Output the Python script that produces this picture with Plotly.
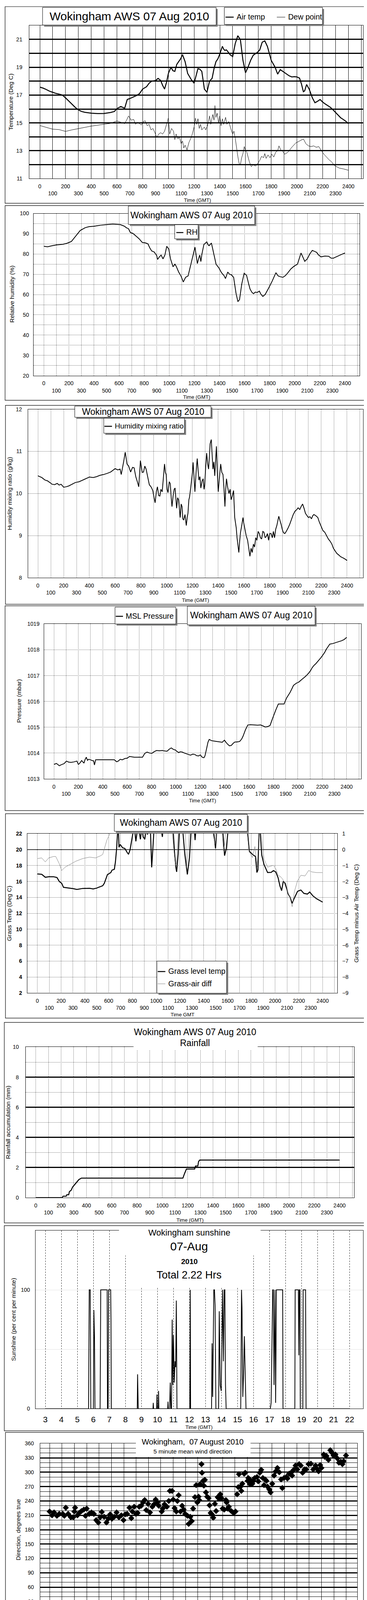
import plotly.graph_objects as go

W, H = 940, 4800
SANS = "Liberation Sans, Arial, Helvetica, sans-serif"

# ---------------- data (hour of day, value) ----------------
AIR_TEMP = [(0,17.57),(0.25,17.5),(0.5,17.4),(0.75,17.28),(1,17.2),(1.25,17.12),(1.5,17.07),(1.75,17.0),(2,16.8),
    (2.25,16.58),(2.5,16.36),(2.75,16.12),(3,15.93),(3.25,15.82),(3.5,15.76),(3.75,15.72),(4,15.7),(4.5,15.67),
    (5,15.68),(5.5,15.75),(5.8,15.82),(6,16.03),(6.3,16.18),(6.6,16.05),(6.8,16.68),(7,16.75),(7.25,16.85),
    (7.5,16.96),(7.75,17.1),(8,17.43),(8.3,17.6),(8.5,17.85),(8.7,18.0),(9,18.04),(9.2,18.2),(9.4,18.05),
    (9.55,17.7),(9.7,17.43),(9.85,17.9),(10,18.55),(10.2,19.0),(10.35,18.75),(10.5,18.7),(10.65,19.2),(10.8,19.4),
    (10.95,19.6),(11.1,19.9),(11.3,19.4),(11.5,18.55),(11.8,18.08),(12.0,17.85),(12.1,18.2),(12.3,18.9),
    (12.45,18.85),(12.6,18.7),(12.8,17.43),(13,17.2),(13.2,18.0),(13.4,18.2),(13.55,18.9),(13.7,19.4),
    (13.85,19.6),(14,19.95),(14.2,20.5),(14.3,20.3),(14.4,20.2),(14.5,20.25),(14.6,20.15),(14.8,19.9),
    (15,19.77),(15.2,20.7),(15.4,21.26),(15.6,20.98),(15.8,19.49),(16,18.6),(16.2,19.02),(16.4,19.5),
    (16.6,19.86),(16.9,20.05),(17.1,20.23),(17.3,20.8),(17.5,20.89),(17.7,20.5),(17.85,20.0),(18,19.49),
    (18.3,19.0),(18.5,18.5),(18.7,18.83),(19,18.64),(19.2,18.5),(19.4,18.38),(19.6,18.3),(19.8,18.32),
    (20.0,18.3),(20.2,18.22),(20.35,17.8),(20.5,17.24),(20.6,17.3),(20.75,17.76),(20.95,17.43),(21.2,16.8),
    (21.4,16.45),(21.6,16.55),(21.8,16.68),(22.0,16.5),(22.2,16.36),(22.4,16.25),(22.6,16.12),(22.8,15.95),
    (23,15.75),(23.2,15.56),(23.4,15.37),(23.6,15.25),(23.8,15.12),(24,14.95)]

DEW_POINT = [(0,14.81),(0.5,14.67),(1,14.55),(1.5,14.52),(2,14.39),(2.5,14.5),(3,14.6),(3.5,14.68),(4,14.77),
    (4.5,14.83),(5,14.9),(5.5,14.97),(6,15.14),(6.3,15.05),(6.6,14.95),(6.75,15.2),(6.9,15.5),(7.1,15.2),
    (7.3,15.25),(7.45,14.9),(7.6,15.05),(7.9,14.85),(8.05,15.1),(8.2,15.15),(8.35,14.8),(8.5,14.9),(8.65,14.5),
    (8.8,14.6),(8.95,14.3),(9.1,13.95),(9.25,14.2),(9.4,14.3),(9.55,14.2),(9.7,14.4),(9.85,14.9),(10.0,15.35),
    (10.1,14.2),(10.25,14.6),(10.4,14.4),(10.5,13.8),(10.6,14.2),(10.75,13.85),(10.85,14.0),(11.0,13.5),
    (11.1,13.7),(11.2,13.2),(11.3,13.4),(11.45,13.06),(11.6,13.6),(11.8,14.0),(12.0,14.7),(12.1,15.35),
    (12.2,14.9),(12.3,15.3),(12.4,14.6),(12.5,14.9),(12.6,14.5),(12.8,14.7),(12.9,14.5),(13.05,14.8),
    (13.2,15.5),(13.3,14.9),(13.45,15.6),(13.55,15.2),(13.62,16.25),(13.7,15.4),(13.8,15.7),(13.9,15.0),
    (14.0,15.5),(14.1,14.8),(14.2,15.3),(14.3,14.9),(14.45,15.4),(14.55,14.9),(14.7,15.1),(14.85,14.6),
    (15.0,14.2),(15.1,14.4),(15.2,13.9),(15.3,13.2),(15.4,12.6),(15.5,12.1),(15.6,12.0),(15.7,12.5),
    (15.8,12.8),(15.9,13.3),(16.0,13.0),(16.1,12.9),(16.3,12.2),(16.45,11.85),(16.6,12.0),(16.75,11.9),
    (16.9,12.0),(17.1,12.3),(17.25,12.6),(17.4,12.5),(17.5,12.8),(17.6,12.45),(17.75,12.7),(17.9,12.5),
    (18.05,12.75),(18.2,12.55),(18.35,12.9),(18.5,13.0),(18.6,13.35),(18.75,13.05),(18.9,12.95),(19.05,12.75),
    (19.3,12.9),(19.6,13.25),(19.9,13.55),(20.2,13.7),(20.5,13.85),(20.7,13.5),(20.9,13.35),(21.1,13.3),
    (21.3,13.35),(21.5,13.25),(21.7,13.3),(21.9,13.0),(22.1,12.75),(22.3,12.55),(22.5,12.35),(22.7,12.2),
    (22.9,11.95),(23.1,11.85),(23.3,11.75),(23.6,11.7),(24.0,11.6)]

REL_HUM = [(0,83.8),(0.3,83.6),(0.6,84.0),(1,84.5),(1.5,84.8),(1.8,85.2),(2,85.7),(2.2,86.2),(2.5,88.5),(2.9,91.6),
    (3.3,93),(3.6,93.5),(4,93.7),(4.5,94.2),(5,94.5),(5.5,94.8),(6.1,94.5),(6.4,93.8),(6.6,92.9),(6.75,92.5),
    (6.9,90.6),(7.1,90.2),(7.4,88.6),(7.6,87.5),(7.85,85.7),(8.1,85.5),(8.3,85.0),(8.45,83.0),(8.6,81.5),
    (8.8,81.0),(9.0,79.2),(9.07,77.3),(9.2,78.5),(9.35,79.5),(9.5,77.6),(9.65,79.5),(9.8,83.8),(9.96,82.5),
    (10.1,77.6),(10.3,73.7),(10.45,75.0),(10.55,74.0),(10.75,71.1),(10.93,69.2),(11.12,66.2),(11.3,68.5),
    (11.5,69.2),(11.68,74),(11.87,78.9),(12.05,83.4),(12.15,79.0),(12.24,75.3),(12.35,78.0),(12.43,79.5),
    (12.52,76.3),(12.6,79.9),(12.76,84.7),(12.99,86.0),(13.1,84.5),(13.17,84.1),(13.36,85.4),(13.54,80.2),
    (13.73,75.0),(13.85,74.0),(13.96,73.1),(14.1,71.5),(14.2,70.5),(14.35,69.5),(14.48,67.9),(14.66,71.1),
    (14.8,70.0),(14.94,69.8),(15.13,68.5),(15.32,60.7),(15.47,56.5),(15.6,57.5),(15.78,65.3),(15.97,70.5),
    (16.16,69.5),(16.3,66.0),(16.44,62.7),(16.6,61.0),(16.72,60.4),(16.85,61.2),(17.0,61.0),(17.18,61.7),
    (17.3,60.2),(17.46,59.1),(17.65,60.1),(17.93,63.3),(18.2,66.6),(18.5,70.8),(18.68,69.2),(18.85,68.8),
    (19.05,68.5),(19.25,69.3),(19.42,70.5),(19.7,72.7),(19.95,74.0),(20.22,75.0),(20.35,77.5),(20.5,80.5),
    (20.65,78.5),(20.8,76.4),(21.0,77.6),(21.2,80.0),(21.4,81.8),(21.6,81.2),(21.75,80.8),(21.9,79.5),
    (22.1,78.6),(22.4,79.0),(22.7,78.9),(22.9,78.0),(23.06,77.9),(23.3,78.6),(23.6,79.5),(23.8,80.0),(24,80.5)]

MIX_RATIO = [(0,10.42),(0.3,10.38),(0.55,10.32),(0.75,10.3),(0.93,10.26),(1.1,10.22),(1.3,10.21),(1.5,10.24),
    (1.65,10.2),(1.8,10.22),(2,10.15),(2.2,10.16),(2.4,10.18),(2.65,10.22),(2.9,10.26),(3.2,10.28),(3.5,10.32),
    (3.75,10.36),(4,10.39),(4.3,10.38),(4.56,10.4),(4.8,10.43),(5.1,10.45),(5.4,10.48),(5.65,10.51),(6,10.59),
    (6.2,10.56),(6.38,10.58),(6.47,10.45),(6.65,10.74),(6.78,10.98),(6.92,10.7),(7.05,10.65),(7.2,10.51),
    (7.35,10.62),(7.47,10.61),(7.6,10.4),(7.74,10.26),(7.83,10.16),(7.96,10.78),(8.1,10.5),(8.2,10.51),
    (8.3,10.65),(8.4,10.58),(8.55,10.35),(8.65,10.21),(8.8,10.15),(8.92,10.07),(9.02,9.9),(9.1,9.78),
    (9.2,10.05),(9.28,10.16),(9.38,9.95),(9.47,9.94),(9.55,10.1),(9.65,10.04),(9.75,10.4),(9.83,10.7),
    (9.9,10.5),(9.96,10.45),(10.03,10.1),(10.1,10.02),(10.2,10.28),(10.28,10.23),(10.35,9.9),(10.41,9.69),
    (10.5,9.95),(10.58,10.1),(10.65,10.13),(10.72,9.8),(10.77,9.65),(10.85,9.9),(10.92,9.85),(11.0,9.6),
    (11.05,9.43),(11.12,9.75),(11.19,9.69),(11.25,9.4),(11.32,9.37),(11.42,9.5),(11.52,9.24),(11.6,9.45),
    (11.65,9.53),(11.72,9.85),(11.77,9.91),(11.85,10.1),(11.92,10.32),(12.0,10.5),(12.05,10.74),(12.12,10.4),
    (12.19,10.04),(12.28,10.5),(12.37,10.83),(12.44,10.55),(12.5,10.32),(12.58,10.4),(12.65,10.13),(12.75,10.3),
    (12.83,10.35),(12.9,10.1),(12.95,10.2),(13.02,10.6),(13.1,10.96),(13.18,10.7),(13.25,10.58),(13.32,10.9),
    (13.37,11.18),(13.46,11.28),(13.52,10.9),(13.59,10.58),(13.66,10.75),(13.73,10.42),(13.8,10.8),
    (13.86,11.12),(13.93,10.5),(14.0,10.04),(14.1,10.4),(14.19,10.7),(14.28,10.5),(14.37,10.45),(14.45,10.1),
    (14.52,9.69),(14.58,10.1),(14.64,10.35),(14.73,10.15),(14.83,10.0),(14.92,10.1),(15.0,9.85),(15.1,9.95),
    (15.19,10.07),(15.28,9.43),(15.34,9.3),(15.4,9.18),(15.46,8.95),(15.52,8.8),(15.6,8.6),(15.66,8.85),
    (15.73,9.08),(15.83,9.25),(15.92,9.43),(15.98,9.3),(16.06,9.18),(16.17,9.0),(16.28,8.89),(16.37,8.7),
    (16.46,8.51),(16.55,8.7),(16.64,8.6),(16.73,8.8),(16.82,8.73),(16.91,8.95),(17.0,8.89),(17.1,9.1),
    (17.19,9.05),(17.28,8.95),(17.37,8.92),(17.46,9.1),(17.55,9.08),(17.64,8.95),(17.73,8.98),(17.82,9.05),
    (17.91,8.89),(18.0,9.05),(18.1,9.05),(18.2,8.95),(18.28,9.1),(18.37,8.95),(18.46,9.15),(18.55,9.24),
    (18.63,9.35),(18.7,9.46),(18.8,9.35),(18.88,9.27),(18.97,9.15),(19.06,9.07),(19.17,9.05),(19.28,9.1),
    (19.42,9.18),(19.55,9.27),(19.68,9.38),(19.82,9.5),(19.96,9.58),(20.1,9.62),(20.2,9.66),(20.33,9.62),
    (20.45,9.7),(20.55,9.75),(20.66,9.65),(20.77,9.53),(20.88,9.48),(21.0,9.43),(21.12,9.45),(21.24,9.4),
    (21.33,9.47),(21.42,9.5),(21.55,9.48),(21.64,9.45),(21.73,9.43),(21.85,9.32),(22.0,9.21),(22.13,9.12),
    (22.27,9.08),(22.41,9.0),(22.55,8.92),(22.68,8.87),(22.82,8.8),(22.94,8.7),(23.06,8.64),(23.2,8.58),
    (23.36,8.54),(23.5,8.5),(23.64,8.48),(23.82,8.45),(24,8.41)]

MSL_PRESSURE = [(0,1013.56),(0.2,1013.6),(0.44,1013.51),(0.6,1013.55),(0.83,1013.59),(1.02,1013.69),(1.2,1013.65),
    (1.4,1013.64),(1.65,1013.66),(1.88,1013.69),(2.0,1013.56),(2.1,1013.6),(2.27,1013.71),(2.46,1013.61),
    (2.55,1013.75),(2.65,1013.84),(2.75,1013.72),(2.84,1013.76),(3.0,1013.74),(3.13,1013.71),(3.25,1013.7),
    (3.32,1013.54),(3.42,1013.74),(3.6,1013.74),(3.9,1013.74),(4.5,1013.74),(4.95,1013.74),(5.15,1013.66),
    (5.3,1013.7),(5.43,1013.76),(5.6,1013.74),(5.82,1013.79),(6.0,1013.8),(6.2,1013.87),(6.4,1013.85),
    (6.59,1013.84),(7.0,1013.84),(7.26,1013.84),(7.45,1013.99),(7.64,1014.04),(7.85,1014.0),(8.03,1013.99),
    (8.2,1014.05),(8.41,1014.1),(8.65,1014.09),(8.89,1014.1),(9.1,1014.08),(9.27,1014.07),(9.45,1014.15),
    (9.62,1014.2),(9.8,1014.14),(9.95,1014.12),(10.1,1014.06),(10.23,1014.02),(10.35,1014.05),(10.52,1014.04),
    (10.7,1014.0),(10.9,1013.97),(11.05,1013.94),(11.19,1013.92),(11.4,1013.96),(11.58,1013.94),(11.7,1013.9),
    (11.87,1013.89),(12.0,1013.93),(12.15,1013.84),(12.3,1013.82),(12.38,1013.89),(12.46,1014.05),
    (12.54,1014.25),(12.63,1014.42),(12.73,1014.53),(12.92,1014.48),(13.2,1014.46),(13.4,1014.45),
    (13.6,1014.43),(13.8,1014.42),(13.98,1014.5),(14.1,1014.42),(14.27,1014.33),(14.4,1014.28),(14.55,1014.3),
    (14.7,1014.38),(14.84,1014.43),(15.0,1014.43),(15.23,1014.45),(15.4,1014.55),(15.51,1014.66),
    (15.71,1014.91),(15.9,1015.09),(16.1,1015.1),(16.38,1015.09),(16.7,1015.08),(16.95,1015.09),
    (17.15,1015.05),(17.34,1015.01),(17.55,1015.03),(17.72,1015.07),(17.91,1015.32),(18.05,1015.5),
    (18.2,1015.68),(18.4,1015.9),(18.6,1015.9),(18.87,1015.9),(19.07,1016.13),(19.2,1016.22),(19.35,1016.34),
    (19.5,1016.48),(19.64,1016.62),(19.8,1016.68),(19.93,1016.72),(20.08,1016.75),(20.22,1016.8),
    (20.35,1016.86),(20.5,1016.92),(20.7,1017.0),(20.89,1017.1),(21.05,1017.2),(21.18,1017.31),(21.33,1017.4),
    (21.47,1017.46),(21.6,1017.53),(21.75,1017.61),(21.9,1017.7),(22.04,1017.79),(22.2,1017.9),(22.33,1018.02),
    (22.48,1018.12),(22.62,1018.22),(22.85,1018.24),(23.1,1018.28),(23.35,1018.32),(23.58,1018.35),
    (23.8,1018.4),(24,1018.48)]

GRASS_TEMP = [(0,16.95),(0.37,16.9),(0.67,16.53),(0.96,16.6),(1.36,16.6),(1.65,16.5),(1.85,16.0),(2.05,15.77),
    (2.2,15.27),(2.64,15.18),(3.03,15.1),(3.33,15.0),(3.82,15.13),(4.4,15.15),(4.7,15.06),(5.0,15.18),
    (5.3,15.35),(5.5,15.47),(5.63,15.77),(5.9,16.87),(6.18,17.12),(6.28,17.42),(6.48,17.54),(6.57,18.46),
    (6.67,20.15),(6.74,22.5),(6.8,23.5),(6.87,20.3),(6.97,20.65),(7.17,20.24),(7.36,20.15),(7.56,19.64),
    (7.67,19.41),(7.8,19.98),(7.95,21.33),(8.1,22.5),(8.15,23.0),(8.29,21.04),(8.4,22.3),(8.5,23.0),
    (8.67,21.3),(8.8,22.8),(8.9,21.6),(9.04,21.3),(9.15,22.5),(9.27,21.9),(9.4,23.5),(9.52,22.2),(9.62,17.78),
    (9.72,20.15),(9.85,23.5),(10.2,24.5),(10.42,22.5),(10.52,21.6),(10.62,23.5),(11.0,25),(11.4,23),
    (11.55,19.5),(11.65,17.8),(11.72,17.21),(11.85,19.5),(11.98,23.5),(12.2,23.0),(12.4,19.5),(12.62,16.89),
    (12.8,19.0),(12.95,23.0),(13.15,23.5),(13.27,21.2),(13.4,23.5),(14.0,25),(14.6,24),(14.85,22.0),
    (14.99,20.15),(15.1,22.5),(15.4,24),(15.62,22.0),(15.75,19.25),(15.9,20.15),(16.05,22.5),(16.5,25),
    (17.2,24),(17.7,22.0),(17.83,19.8),(18.1,19.4),(18.35,19.14),(18.47,17.13),(18.56,17.45),(18.64,22.0),
    (18.7,23.0),(18.8,21.0),(18.88,19.3),(19.07,18.13),(19.37,17.12),(19.67,17.15),(19.86,17.37),(20.06,17.2),
    (20.26,16.44),(20.41,15.43),(20.55,14.85),(20.69,16.03),(20.85,15.77),(21.1,14.42),(21.24,14.09),
    (21.44,13.25),(21.57,13.75),(21.73,14.26),(21.89,14.76),(22.17,14.93),(22.42,14.51),(22.72,14.42),
    (22.91,14.68),(23.2,14.17),(23.5,13.83),(23.8,13.58),(24.0,13.41)]

GRASS_AIR_DIFF = [(0,-0.56),(0.37,-0.52),(0.67,-0.77),(0.96,-0.52),(1.36,-0.43),(1.55,-0.43),(1.85,-0.89),
    (2.05,-1.31),(2.34,-1.1),(2.83,-0.89),(3.23,-0.73),(3.82,-0.56),(4.4,-0.47),(4.9,-0.52),(5.3,-0.39),
    (5.5,-0.3),(5.67,0.14),(5.85,0.6),(6.1,1.0),(6.3,1.5),(7.5,2.2),(8.5,2.5),(9.4,2.0),(9.6,1.5),(9.75,2.0),
    (10.5,2.5),(11.3,1.5),(11.45,0.2),(11.62,-0.99),(11.7,-0.9),(11.8,0.5),(11.9,1.5),(12.2,2.0),(12.45,1.0),
    (12.57,-1.11),(12.66,-0.3),(12.8,1.2),(13.5,2.5),(14.6,1.5),(14.8,0.9),(14.96,0.36),(15.1,1.1),
    (15.55,1.2),(15.65,-0.05),(15.75,0.3),(15.85,1.3),(16.5,2.5),(17.6,1.5),(17.8,-0.1),(17.95,-0.3),
    (18.1,-0.5),(18.3,0.2),(18.42,-0.6),(18.5,-1.1),(18.6,0.5),(18.68,1.5),(18.85,0.9),(19.07,-0.6),
    (19.37,-1.1),(19.6,-1.05),(19.86,-0.98),(20.06,-1.2),(20.26,-1.61),(20.45,-1.69),(20.65,-1.86),
    (20.94,-2.45),(21.24,-2.96),(21.44,-3.59),(21.63,-2.62),(21.89,-1.95),(22.17,-1.61),(22.52,-1.65),
    (22.82,-1.31),(23.11,-1.4),(23.5,-1.44),(24.0,-1.44)]

RAINFALL = [(0,0),(2.09,0),(2.15,0.1),(2.4,0.1),(2.45,0.2),(2.6,0.2),(2.65,0.4),(2.8,0.5),(2.9,0.7),(3.0,0.8),
    (3.1,0.9),(3.2,1.0),(3.3,1.1),(3.4,1.2),(3.6,1.3),(11.62,1.3),(11.75,1.6),(11.9,1.9),(12.55,1.9),
    (12.62,2.1),(12.8,2.1),(12.86,2.4),(12.95,2.5),(24,2.5)]

SUNSHINE = [(3,0),(5.7,0),(5.74,100),(5.8,100),(5.84,0),(6.0,0),(6.03,83),(6.07,60),(6.1,0),(6.42,0),(6.46,100),
    (6.86,100),(6.88,0),(6.92,0),(6.95,100),(7.08,100),(7.1,75),(7.12,0),(8.74,0),(8.76,29),(8.78,15),(8.8,0),
    (9.72,0),(9.74,5),(9.76,0),(9.95,0),(9.97,12),(9.99,0),(10.05,0),(10.07,15),(10.09,0),(10.64,0),(10.66,6),
    (10.68,0),(10.76,0),(10.8,22),(10.84,0),(10.88,0),(10.92,75),(10.96,20),(11.0,62),(11.05,22),(11.1,40),
    (11.14,35),(11.18,91),(11.22,0),(12.02,0),(12.04,52),(12.05,100),(12.07,0),(13.38,0),(13.41,55),
    (13.45,10),(13.52,100),(13.56,100),(13.6,87),(13.65,0),(13.82,0),(13.86,82),(13.92,20),(13.98,15),
    (14.03,60),(14.07,100),(14.12,40),(14.17,100),(14.21,100),(14.25,20),(14.29,0),(15.2,0),(15.22,35),
    (15.25,100),(15.28,85),(15.33,10),(15.38,30),(15.43,61),(15.48,30),(15.53,0),(17.05,0),(17.1,5),
    (17.2,100),(17.24,100),(17.28,20),(17.34,100),(17.38,5),(17.43,100),(17.82,100),(17.84,0),(18.58,0),
    (18.6,100),(18.8,100),(18.83,45),(18.86,100),(18.9,100),(18.92,0),(19.08,0),(19.1,100),(19.25,100),
    (19.28,0),(22,0)]

WIND_DIR = [(0,218),(0.2,210),(0.36,216),(0.59,209),(0.78,213),(1.06,213),(1.19,209),(1.31,226),(1.5,213),
    (1.72,206),(1.91,206),(2.0,218),(2.06,226),(2.25,210),(2.39,215),(2.58,219),(2.77,222),(2.9,209),(3.0,224),
    (3.2,213),(3.39,216),(3.58,213),(3.77,200),(3.94,195),(4.09,206),(4.22,217),(4.41,207),(4.6,195),
    (4.75,203),(4.9,212),(5.04,203),(5.23,207),(5.42,216),(5.61,206),(5.8,210),(5.98,200),(6.12,212),
    (6.27,213),(6.46,226),(6.61,204),(6.69,218),(6.84,228),(6.99,213),(7.12,215),(7.25,228),(7.41,230),
    (7.56,237),(7.69,242),(7.82,221),(7.97,234),(8.12,216),(8.31,228),(8.45,233),(8.58,243),(8.73,237),
    (8.83,230),(9.07,218),(9.15,224),(9.3,233),(9.49,228),(9.64,240),(9.73,261),(9.91,261),(10.0,243),
    (10.11,225),(10.25,218),(10.34,240),(10.44,252),(10.59,218),(10.72,230),(10.85,222),(10.97,213),
    (11.16,209),(11.25,192),(11.38,207),(11.5,198),(11.61,224),(11.76,248),(11.86,273),(11.95,237),
    (12.05,249),(12.1,242),(12.18,275),(12.29,317),(12.33,299),(12.42,282),(12.48,272),(12.56,284),
    (12.65,258),(12.75,249),(12.86,246),(12.94,231),(13.03,215),(13.13,212),(13.24,205),(13.37,234),
    (13.47,219),(13.6,248),(13.69,245),(13.81,254),(13.9,246),(14.0,224),(14.13,222),(14.26,242),(14.32,237),
    (14.41,224),(14.5,228),(14.7,219),(14.89,215),(15.04,218),(15.17,254),(15.27,269),(15.32,296),(15.45,270),
    (15.51,261),(15.59,276),(15.74,297),(15.83,299),(16.02,282),(16.08,288),(16.21,275),(16.31,282),
    (16.4,276),(16.5,282),(16.59,288),(16.78,290),(16.88,281),(17.0,299),(17.12,305),(17.25,288),(17.35,273),
    (17.44,285),(17.54,282),(17.63,270),(17.78,264),(17.88,258),(18.01,276),(18.16,293),(18.3,302),
    (18.43,309),(18.58,300),(18.73,285),(18.83,267),(18.96,288),(19.15,290),(19.24,287),(19.38,297),
    (19.53,299),(19.62,293),(19.75,305),(19.9,314),(20.04,306),(20.19,317),(20.32,314),(20.47,299),
    (20.62,306),(20.76,306),(20.95,317),(21.14,318),(21.33,306),(21.52,314),(21.61,308),(21.76,302),
    (21.89,315),(21.99,309),(22.18,337),(22.27,332),(22.4,334),(22.56,326),(22.71,346),(22.84,341),
    (22.97,335),(23.13,337),(23.28,329),(23.41,320),(23.56,322),(23.69,317),(23.79,323),(23.98,335)]

MEAN_SPEED = [(0,6.5),(0.1,7.3),(0.3,6.8),(0.5,6.6),(0.7,7.5),(0.9,6.6),(1.0,6.7),(1.3,6.2),(1.6,5.7),(1.8,5.6),
    (2.0,6.2),(2.2,6.0),(2.5,5.8),(2.8,5.5),(3.0,4.9),(3.2,5.0),(3.5,4.6),(3.8,4.5),(4.0,3.8),(4.3,3.6),
    (4.6,3.2),(4.8,3.6),(5.0,3.7),(5.3,4.2),(5.5,4.1),(5.8,4.8),(6.0,4.9),(6.3,4.8),(6.5,4.6),(6.8,5.2),
    (7.0,5.4),(7.3,4.9),(7.6,5.0),(8.0,5.3),(8.3,5.0),(8.6,5.6),(9.0,5.6),(9.3,5.2),(9.6,5.0),(9.8,4.6),
    (10.0,3.2),(10.2,3.5),(10.4,3.7),(10.6,4.8),(10.8,6.5),(11.0,7.7),(11.2,7.5),(11.4,7.0),(11.6,5.0),
    (11.8,3.5),(12.0,2.5),(12.2,1.8),(12.4,2.7),(12.6,4.5),(12.8,4.2),(13.0,3.6),(13.2,4.0),(13.4,4.3),
    (13.6,4.8),(13.8,5.8),(14.0,5.2),(14.3,4.8),(14.6,4.9),(14.9,4.6),(15.0,3.4),(15.2,2.5),(15.4,4.5),
    (15.6,6.5),(15.8,8.0),(16.0,7.0),(16.2,4.5),(16.4,3.2),(16.6,4.0),(16.8,5.5),(17.0,5.0),(17.2,5.8),
    (17.4,6.6),(17.6,6.4),(17.8,6.0),(18.0,6.6),(18.2,6.8),(18.4,6.0),(18.6,5.0),(18.8,3.4),(19.0,3.3),
    (19.3,4.0),(19.6,3.7),(19.9,3.3),(20.0,2.5),(20.3,2.2),(20.6,2.8),(20.9,3.2),(21.2,3.0),(21.5,3.2),
    (21.8,2.9),(22.0,3.8),(22.3,4.0),(22.6,3.6),(22.9,4.8),(23.1,5.8),(23.3,5.6),(23.5,4.8),(23.7,4.6),(23.9,4.0)]

# gusts, ten readings per hour (00:00 .. 23:54)
GUSTS = [
    10.1, 14.7, 9.2, 12.0, 8.5, 15.0, 11.5, 13.5, 6.5, 10.5,
    9.5, 11.0, 8.2, 10.5, 7.0, 10.0, 9.0, 10.3, 6.0, 9.8,
    13.5, 8.0, 10.0, 7.2, 9.5, 11.5, 7.5, 8.8, 6.5, 8.0,
    7.2, 8.5, 6.0, 7.5, 5.5, 8.0, 6.2, 5.0, 7.0, 5.5,
    5.0, 6.5, 4.2, 5.8, 4.0, 5.2, 3.8, 5.5, 4.5, 6.2,
    5.0, 7.5, 6.0, 8.2, 5.5, 7.0, 8.0, 6.5, 9.5, 6.0,
    8.0, 6.2, 9.0, 7.0, 8.5, 6.5, 8.8, 10.5, 7.0, 9.0,
    8.5, 10.0, 7.0, 9.5, 11.5, 7.5, 9.0, 6.8, 8.0, 9.5,
    7.0, 10.5, 8.0, 9.2, 7.0, 10.0, 8.5, 6.5, 9.5, 8.0,
    7.5, 9.0, 6.5, 8.5, 7.0, 6.0, 5.5, 6.5, 5.0, 4.0,
    4.5, 7.0, 5.5, 8.0, 6.5, 9.0, 11.0, 12.5, 9.5, 14.0,
    11.0, 13.5, 10.0, 8.5, 7.0, 6.0, 4.5, 4.0, 3.5, 2.5,
    3.0, 2.0, 2.5, 3.5, 4.5, 6.5, 12.8, 9.0, 7.0, 6.0,
    5.0, 8.0, 6.5, 9.5, 7.0, 10.5, 8.0, 10.0, 7.5, 10.8,
    6.5, 9.0, 8.0, 7.0, 9.5, 6.5, 8.5, 7.0, 6.0, 8.0,
    4.5, 3.0, 6.0, 8.5, 10.0, 12.5, 15.5, 12.0, 13.5, 9.5,
    8.0, 6.5, 5.0, 4.5, 7.0, 8.5, 6.0, 9.0, 4.0, 8.0,
    7.5, 10.0, 8.0, 10.5, 8.5, 11.0, 9.5, 10.5, 8.5, 12.0,
    14.0, 10.5, 12.5, 9.0, 7.0, 5.5, 6.0, 4.5, 7.5, 5.0,
    6.5, 4.5, 7.0, 5.5, 6.5, 4.0, 7.5, 4.5, 5.5, 3.5,
    6.5, 3.0, 4.5, 2.5, 5.0, 3.5, 2.8, 4.0, 3.2, 6.5,
    4.0, 5.5, 3.5, 4.5, 3.8, 5.0, 4.0, 5.5, 4.5, 5.5,
    6.0, 4.5, 8.0, 5.5, 9.0, 6.0, 7.0, 5.0, 9.5, 7.0,
    13.0, 8.0, 11.5, 7.5, 10.5, 6.5, 9.5, 7.0, 8.0, 10.5]
GUST_HOURS = [i / 10 for i in range(len(GUSTS))]

HUNDREDS = list(range(0, 2501, 100))
SUN_HOURS = list(range(3, 23))
DIR_HOURS = list(range(0, 25))
SPEED_HOURS = list(range(0, 25))

# ---------------- helpers ----------------
def split(pairs):
    return [p[0] for p in pairs], [p[1] for p in pairs]

def hund(pairs):
    h, v = split(pairs)
    return [t * 100 for t in h], v

shapes, annotations = [], []

def rect(x0, y0, x1, y1, fill=None, line=None, lw=1.0):
    shapes.append(dict(type='rect', xref='paper', yref='paper', layer='above',
                       x0=x0 / W, x1=x1 / W, y0=1 - y1 / H, y1=1 - y0 / H,
                       fillcolor=fill or 'rgba(0,0,0,0)',
                       line=dict(color=line or 'rgba(0,0,0,0)', width=lw if line else 0)))

def boxed(x0, y0, x1, y1):
    rect(x0 + 4, y0 + 4, x1 + 4, y1 + 4, fill='#7f7f7f')
    rect(x0, y0, x1, y1, fill='white', line='black', lw=1)

def text(t, x, y, size, angle=0, xanchor='center', color='black'):
    annotations.append(dict(text=t, x=x / W, y=1 - y / H, xref='paper', yref='paper', showarrow=False,
                            font=dict(size=size, family=SANS, color=color), textangle=angle,
                            xanchor=xanchor, yanchor='middle'))

def key(x0, x1, y, label, size, width, color='black'):
    shapes.append(dict(type='line', xref='paper', yref='paper', layer='above', x0=x0 / W, x1=x1 / W,
                       y0=1 - y / H, y1=1 - y / H, line=dict(color=color, width=width)))
    text(label, x1 + 5, y - 1, size, xanchor='left')

TICKF = dict(size=14, family=SANS, color='black')
DOT = '1px,2px'

def base_axis(**kw):
    d = dict(showline=True, mirror=True, linecolor='black', linewidth=1, zeroline=False, ticks='',
             fixedrange=True, tickfont=TICKF, showgrid=True, gridcolor='black', gridwidth=1,
             tickmode='array', tickangle=0)
    d.update(kw)
    return d

layout = dict(width=W, height=H, margin=dict(l=0, r=0, t=0, b=0), paper_bgcolor='white',
              plot_bgcolor='white', font=dict(family=SANS, color='black'), showlegend=False)

def set_axes(n, px0, px1, py0, py1, xkw, ykw):
    s = '' if n == 1 else str(n)
    layout['xaxis' + s] = base_axis(domain=[px0 / W, px1 / W], anchor='y' + s, **xkw)
    layout['yaxis' + s] = base_axis(domain=[1 - py1 / H, 1 - py0 / H], anchor='x' + s, **ykw)

def two_row(vals, fmt, last_blank=1):
    out = []
    for i, v in enumerate(vals):
        if i >= len(vals) - last_blank:
            out.append('')
        elif i % 2 == 0:
            out.append(fmt(v))
        else:
            out.append('<br>' + fmt(v))
    return out

HUND_TEXT = two_row(HUNDREDS, str)

def hund_x(rng, dash):
    return dict(range=rng, tickvals=HUNDREDS, ticktext=HUND_TEXT, griddash=dash, ticklabelstandoff=7)

fig = go.Figure()

def line(pairs, n, name, width=2.0, color='black', hundreds=True, yref=None):
    s = '' if n == 1 else str(n)
    x, y = hund(pairs) if hundreds else split(pairs)
    fig.add_trace(go.Scatter(x=x, y=y, mode='lines', name=name, line=dict(color=color, width=width),
                             xaxis='x' + s, yaxis=yref or ('y' + s), hoverinfo='skip'))

# ---------------- outer frames ----------------
for b in [(5, 1, 928, 506), (5, 512, 926, 1012), (6, 1025, 928, 1536), (5, 1540, 928, 2066),
          (6, 2074, 929, 2599), (3, 2610, 932, 3125), (3, 3132, 930, 3659), (6, 3663, 923, 4187),
          (7, 4196, 928, 4696)]:
    rect(*b, line='black', lw=1.2)

# ---------------- panel 1: temperature ----------------
set_axes(1, 67, 921.5, 49.3, 442.7,
         hund_x([-82, 2513], 'solid'),
         dict(range=[11, 22], tickvals=list(range(11, 23)),
              ticktext=[str(v) if v % 2 == 1 and v < 22 else '' for v in range(11, 23)],
              gridwidth=2.5, ticklabelstandoff=14))
line(AIR_TEMP, 1, 'Air temp', width=2.5)
line(DEW_POINT, 1, 'Dew point', width=1)
boxed(101, 3, 545.6, 48.3)
text('Wokingham AWS 07 Aug 2010', 323, 26, 30)
boxed(566.5, 3, 818, 46.7)
key(569.5, 590.5, 28, 'Air temp', 19.5, 2.5)
key(701, 722.5, 28, 'Dew point', 19.5, 1)
text('Temperature (Deg C)', 19.5, 246, 15.5, angle=-90)
text('Time (GMT)', 498, 498, 13)

# ---------------- panel 2: RH ----------------
set_axes(2, 78, 913, 532.3, 948.8,
         hund_x([-81.6, 2517], DOT),
         dict(range=[20, 100], tickvals=list(range(20, 101, 5)),
              ticktext=[str(v) if v % 10 == 0 else '' for v in range(20, 101, 5)],
              griddash=DOT, ticklabelstandoff=8))
line(REL_HUM, 2, 'RH', width=2)
boxed(320.7, 513, 644.5, 560.3)
text('Wokingham AWS 07 Aug 2010', 482.6, 537, 23)
boxed(439.5, 561, 499.4, 597.5)
key(443.6, 461.6, 581.3, 'RH', 20, 2.5)
text('Relative humidity (%)', 22.5, 740, 15.5, angle=-90)
text('Time (GMT)', 495.5, 1004, 13)

# ---------------- panel 3: mixing ratio ----------------
set_axes(3, 64, 921.5, 1035.1, 1468,
         hund_x([-75.8, 2523], DOT),
         dict(range=[8, 12], tickvals=[8, 9, 10, 11, 12], griddash=DOT, ticklabelstandoff=12))
line(MIX_RATIO, 3, 'Humidity mixing ratio', width=2)
boxed(183.5, 1027, 532.4, 1055.8)
text('Wokingham AWS 07 Aug 2010', 358, 1041.5, 23)
boxed(257.8, 1058.2, 464.6, 1096.8)
key(259.5, 278.8, 1078.9, 'Humidity mixing ratio', 19, 2.5)
text('Humidity mixing ratio (g/kg)', 16.5, 1252, 15.5, angle=-90)
text('Time (GMT)', 492.7, 1525.5, 13)

# ---------------- panel 4: pressure ----------------
set_axes(4, 105, 917.3, 1586.7, 1984.6,
         hund_x([-80.8, 2520], DOT),
         dict(range=[1013, 1019], tickvals=list(range(1013, 1020)), griddash=DOT, ticklabelstandoff=8))
line(MSL_PRESSURE, 4, 'MSL Pressure', width=2)
boxed(286.6, 1543.4, 442.4, 1586.7)
key(288.5, 307, 1567, 'MSL Pressure', 19.5, 2.5)
boxed(471.8, 1541, 799, 1589)
text('Wokingham AWS 07 Aug 2010', 635.4, 1564.5, 23)
text('Pressure (mbar)', 40.5, 1785, 15.5, angle=-90)
text('Time (GMT)', 511, 2040, 13)

# ---------------- panel 5: grass temp ----------------
set_axes(5, 62.4, 855.5, 2125.4, 2534.5,
         hund_x([-82.8, 2522], DOT),
         dict(range=[2, 22], tickvals=list(range(2, 23, 2)),
              ticktext=['<b>%d</b>' % v for v in range(2, 23, 2)], griddash=DOT, ticklabelstandoff=10))
layout['yaxis10'] = dict(overlaying='y5', side='right', anchor='x5', range=[-9, 1], tickmode='array',
                         tickvals=list(range(-9, 2)), showgrid=False, showline=False, zeroline=False,
                         ticks='', tickfont=TICKF, fixedrange=True, ticklabelstandoff=12)
shapes.append(dict(type='line', xref='x5 domain', yref='y5', x0=0, x1=1, y0=20, y1=20,
                   line=dict(color='black', width=1.5), layer='below'))
line(GRASS_TEMP, 5, 'Grass level temp', width=2.5)
line(GRASS_AIR_DIFF, 5, 'Grass-air diff', width=1, color='#808080', yref='y10')
boxed(284.8, 2075.5, 625.3, 2119.2)
text('Wokingham AWS 07 Aug 2010', 455, 2097, 23)
boxed(393.9, 2452.6, 572.5, 2535.2)
key(396, 415.5, 2479.4, 'Grass level temp', 19.5, 2.5)
key(396, 415.5, 2511, 'Grass-air diff', 19.5, 1, color='#808080')
text('Grass Temp (Deg C)', 15, 2330, 15.5, angle=-90)
text('Grass Temp minus Air Temp (Deg C)', 904, 2330, 15.5, angle=-90)
text('Time GMT', 459, 2590, 13)

# ---------------- panel 6: rainfall ----------------
set_axes(6, 58.2, 899.3, 2673.4, 3060.3,
         hund_x([-78.8, 2516], DOT),
         dict(range=[0, 10], tickvals=[0, 2, 4, 6, 8, 10], gridwidth=2.5, ticklabelstandoff=14,
              minor=dict(tickmode='array', tickvals=[1, 3, 5, 7, 9], showgrid=True, gridcolor='black',
                         gridwidth=1, griddash=DOT, ticks='')))
line(RAINFALL, 6, 'Rainfall', width=2.5)
rect(334, 2612, 652, 2682, fill='white')
text('Wokingham AWS 07 Aug 2010', 491.6, 2634.5, 23)
text('Rainfall', 491.6, 2663, 23)
text('Rainfall accumulation (mm)', 12.5, 2867, 15.5, angle=-90)
text('Time (GMT)', 478.7, 3117.6, 13)

# ---------------- panel 7: sunshine ----------------
set_axes(7, 82.7, 921.5, 3144.3, 3602.5,
         dict(range=[2.38, 22.83], tickvals=SUN_HOURS, ticktext=[str(v) for v in SUN_HOURS],
              griddash='4px,3px', gridcolor='#333333', tickfont=dict(size=21, family=SANS, color='black'),
              ticklabelstandoff=8),
         dict(range=[0, 150], tickvals=[0, 50, 100], ticktext=['0', '', '100'], griddash=DOT,
              gridcolor='#aaaaaa', ticklabelstandoff=10))
line(SUNSHINE, 7, 'Sunshine', width=2, hundreds=False)
rect(296.8, 3136, 659.5, 3208.6, fill='white')
rect(330, 3208, 625, 3289, fill='white')
text('Wokingham sunshine', 476.6, 3149.6, 22)
text('07-Aug', 476.6, 3185.4, 30)
text('<b>2010</b>', 476.6, 3224.6, 19)
text('Total 2.22 Hrs', 476.6, 3258.6, 27)
text('Sunshine (per cent per minute)', 26.5, 3373, 15.5, angle=-90)
text('Time (GMT)', 502, 3649.6, 13)

# ---------------- panel 8: wind direction ----------------
set_axes(8, 94.7, 907, 3691.8, 4134.3,
         dict(range=[-0.77, 24.89], tickvals=DIR_HOURS, ticktext=[str(v) for v in DIR_HOURS],
              ticklabelstandoff=8),
         dict(range=[0, 360], tickvals=list(range(0, 361, 30)), gridwidth=2.5, ticklabelstandoff=12,
              minor=dict(tickmode='array', tickvals=[v for v in range(10, 360, 10) if v % 30],
                         showgrid=True, gridcolor='black', gridwidth=1, ticks='')))
dh, dv = split(WIND_DIR)
fig.add_trace(go.Scatter(x=dh, y=dv, mode='markers', name='Direction', xaxis='x8', yaxis='y8',
                         marker=dict(symbol='diamond', size=12, color='black'), hoverinfo='skip'))
rect(340, 3675, 633.7, 3726, fill='white')
text('Wokingham,  07 August 2010', 485.6, 3687.4, 20)
text('5 minute mean wind direction', 485.6, 3711.4, 15.5)
text('Direction, degrees true', 38.5, 3913, 15.5, angle=-90)
text('Time (GMT)', 500.8, 4174, 13)

# ---------------- panel 9: wind speed ----------------
set_axes(9, 69, 921.5, 4240.5, 4616.5,
         dict(range=[-0.72, 25.15], tickvals=SPEED_HOURS,
              ticktext=two_row(SPEED_HOURS, lambda v: '%02d:00' % v), griddash=DOT, ticklabelstandoff=7),
         dict(range=[0, 50], tickvals=list(range(0, 51, 5)),
              ticktext=[str(v) if v % 10 == 0 else '' for v in range(0, 51, 5)], griddash=DOT,
              ticklabelstandoff=10))
line(MEAN_SPEED, 9, '10 Min mean speed', width=2, hundreds=False)
fig.add_trace(go.Scatter(x=GUST_HOURS, y=GUSTS, mode='lines', name='Gusts', xaxis='x9', yaxis='y9',
                         line=dict(color='black', width=1), hoverinfo='skip'))
text('Wokingham,  07 August 2010', 308.7, 4218.3, 22.5)
text('Wind speed', 549.5, 4218.3, 19.5)
boxed(707.4, 4197.2, 882.5, 4255.3)
key(713.4, 728.4, 4212.7, '10 Min mean speed', 15, 2.5)
key(713.4, 728.4, 4240.5, 'Gusts', 15, 1)
text('Speed (knots)', 20.5, 4428, 15.5, angle=-90)
text('Time (GMT)', 495, 4672.7, 13)

layout['shapes'] = shapes
layout['annotations'] = annotations
fig.update_layout(**layout)
fig.write_html('out.html')
